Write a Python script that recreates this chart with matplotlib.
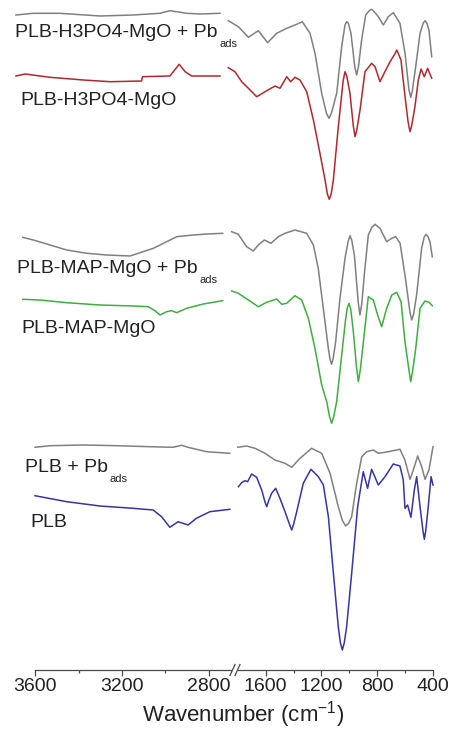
"""
FTIR spectra of PLB samples before / after Pb adsorption (broken wavenumber axis)
"""

import numpy as np
import matplotlib.pyplot as plt
from matplotlib.lines import Line2D

plt.rcParams['font.family'] = ['Liberation Sans', 'DejaVu Sans']
plt.rcParams['mathtext.fontset'] = 'custom'
plt.rcParams['mathtext.rm'] = 'Liberation Sans'
plt.rcParams['mathtext.it'] = 'Liberation Sans:italic'

# ===== DATA (transmittance, arbitrary units) =====
# "hi" = 3600-2700 cm-1 window, "lo" = 1800-400 cm-1 window

# PLB-H3PO4-MgO + Pb_ads
h3po4_pb_hi_wn = [3600, 3524, 3406, 3229, 3083, 2965, 2921, 2891, 2847, 2788, 2700]
h3po4_pb_hi = [0, 1.7, 1.7, -1, 0, 1.7, 4.3, 3.3, 1.7, 1, 1.7]
h3po4_pb_lo_wn = [1798, 1729, 1660, 1592, 1528, 1466, 1397, 1340, 1290, 1237, 1203,
                  1157, 1125, 1107, 1090, 1054, 1020, 997, 986, 975, 956, 930, 917, 905,
                  883, 855, 830, 814, 795, 768, 734, 700, 665, 620, 585, 558, 546, 535,
                  512, 482, 460, 448, 436, 421, 402]
h3po4_pb_lo = [-5.7, -11.7, -22.3, -15.7, -27.7, -18.3, -13.3, -10, -6.7, -18.3, -38.3,
               -78.3, -98, -103.3, -98, -78.3, -31.7, -10, -6.7, -8, -18.3, -52, -60, -52,
               -25, 0, 4.5, 5.7, 3, -1.7, -10, -1.7, 2.3, -8.3, -38.3, -75, -82.3, -76,
               -51.7, -18.3, -8, -5.7, -8, -15, -41.7]

# PLB-H3PO4-MgO
h3po4_hi_wn = [3600, 3560, 3450, 3303, 3184, 3046, 3042, 2921, 2880, 2854, 2825, 2700]
h3po4_hi = [0, 2, -1.3, -4, -5.7, -5, -0.7, 0, 11.7, 4.3, 0, 0]
h3po4_lo_wn = [1798, 1752, 1706, 1660, 1603, 1546, 1477, 1443, 1397, 1370, 1340, 1306,
               1260, 1214, 1169, 1134, 1118, 1105, 1092, 1077, 1043, 1010, 997, 985, 963,
               940, 928, 916, 894, 860, 814, 791, 757, 723, 688, 655, 642, 630, 613, 585,
               565, 551, 540, 517, 494, 475, 453, 430, 402]
h3po4_lo = [8.3, 4.3, -5.7, -12.3, -20.7, -15.7, -10, -12.3, -0.7, -5.7, -1.3, -4,
            -15.7, -44, -77.3, -104, -118, -123.3, -118, -104, -50.7, -5, 4.3, 0, -17.3,
            -50, -60.7, -54, -34, 4.3, 12.7, 9.3, -5.7, 4.3, 14.3, 22, 26, 22, 16, -20.7,
            -45, -55.7, -50, -30.7, -4, 7, -0.7, 7.7, -2.3]

# PLB-MAP-MgO + Pb_ads
map_pb_hi_wn = [3600, 3552, 3477, 3402, 3312, 3222, 3117, 3072, 3012, 2952, 2907, 2832, 2772, 2700]
map_pb_hi = [0, -2.7, -7.7, -12.7, -16, -17.7, -18.7, -15.4, -11, -4.4, 0.6, 2.3, 3.3, 4]
map_pb_lo_wn = [1800, 1754, 1696, 1650, 1615, 1573, 1527, 1476, 1429, 1360, 1279, 1232,
                1198, 1163, 1128, 1116, 1105, 1094, 1077, 1047, 1012, 990, 977, 965, 947,
                920, 908, 895, 878, 850, 825, 803, 769, 722, 687, 659, 629, 595, 560, 548,
                535, 514, 479, 462, 449, 436, 421, 405]
map_pb_lo = [5.6, 3, -9.4, -13.7, -7.7, -2.7, -6, 0.6, 4, 7.3, 4, -7.7, -31, -71, -111,
             -122, -127, -121, -104.4, -61, -21, -4, 1.6, -3, -17.7, -65, -77.7, -66,
             -37.7, 2.3, 10, 13, 9, -4.4, -1, 0.6, -6, -37.7, -75, -82.7, -77, -57.7, -11,
             0, 3, 1, -4.4, -19.4]

# PLB-MAP-MgO
map_hi_wn = [3600, 3522, 3402, 3252, 3102, 3035, 3005, 2982, 2952, 2930, 2907, 2862, 2787, 2700]
map_hi = [0, -0.7, -3.4, -5.7, -6.7, -7.4, -11.4, -15.7, -12.4, -11.4, -13.4, -9, -4.7, -1.4]
map_lo_wn = [1800, 1754, 1684, 1615, 1557, 1487, 1452, 1418, 1360, 1313, 1267, 1221, 1174,
             1139, 1120, 1105, 1090, 1070, 1035, 1007, 995, 984, 972, 954, 932, 919, 905,
             884, 850, 815, 785, 757, 722, 687, 653, 622, 595, 568, 555, 542, 520, 490,
             456, 428, 405]
map_lo = [8.3, 6, -0.7, -7.4, -3, 0.3, -5, -4, 3.6, -0.7, -19, -49, -85.7, -102.4, -117,
          -124, -117, -102.4, -55.7, -19, -8, -4, -10, -32.4, -68, -82.4, -70, -42.4, 2.6,
          -0.7, -15.7, -27.4, -9, 4.3, 7, -2.4, -42.4, -70, -82.4, -72, -49, -9, -1.7, -3,
          -6.4]

# PLB + Pb_ads
plb_pb_hi_wn = [3600, 3531, 3378, 3225, 3072, 2965, 2926, 2896, 2812, 2705]
plb_pb_hi = [0, 1.6, 2.3, 1.6, 0.6, 0, 2, 0, -4.4, -6]
plb_pb_lo_wn = [1800, 1736, 1676, 1604, 1533, 1461, 1413, 1353, 1270, 1198, 1138, 1079,
                1050, 1026, 1005, 983, 947, 911, 875, 828, 792, 720, 637, 601, 565, 541,
                510, 481, 457, 429, 400]
plb_pb_lo = [0, 1.3, -1, -6, -12.7, -16, -20, -11, -1, -6, -26, -59.4, -73, -78.7, -76,
             -69.4, -36, -9.4, -4.4, -2.7, -6, -4.4, -2, -12.7, -32, -22.7, -8.7, -19.4,
             -32, -22.7, 0.6]

# PLB
plb_hi_wn = [3600, 3562, 3454, 3302, 3149, 3057, 3018, 2980, 2942, 2896, 2858, 2796, 2704]
plb_hi = [0, -1.6, -6, -10.3, -12.6, -14.3, -21, -31.6, -26, -29.3, -22.6, -16, -13.6]
plb_lo_wn = [1795, 1772, 1748, 1729, 1700, 1664, 1628, 1605, 1592, 1578, 1557, 1528, 1497,
             1461, 1425, 1413, 1400, 1377, 1330, 1275, 1222, 1186, 1150, 1114, 1079, 1064,
             1050, 1036, 1019, 983, 940, 900, 869, 840, 792, 744, 685, 637, 613, 601, 582,
             558, 534, 517, 493, 472, 462, 452, 434, 414, 400]
plb_lo = [9, 13, 15, 14, 21.7, 18.4, 5.7, -6, -11, -5, 2.4, 7.4, -2.6, -16, -30, -34.3,
          -29, -16, 12.4, 26.4, 19, 10.7, -21, -77.6, -131, -147, -154.3, -147, -131,
          -77.6, -11, 24, 7.4, 26.4, 10.7, 19, 31.7, 29.7, 15.7, -12.6, -9.3, -21.6, 5.7,
          19, -11, -35, -43.6, -35, -11, 19, 10.7]

sample_names = ['PLB-H3PO4-MgO + Pb', 'PLB-H3PO4-MgO',
                'PLB-MAP-MgO + Pb', 'PLB-MAP-MgO',
                'PLB + Pb', 'PLB']
has_ads = [True, False, True, False, True, False]

hi_ticks = [3600, 3200, 2800]
lo_ticks = [1600, 1200, 800, 400]

# ===== LAYOUT (pixels of the 452x731 canvas) =====
W, H = 452, 731
AXIS_Y = 670                      # pixel row of the wavenumber axis
# stacking offsets above the axis
offsets = [655, 594, 432.7, 370.7, 222.7, 174.3]
colors = ['#808080', '#b0282e', '#808080', '#3fae3f', '#808080', '#3535a5']
# each panel: (hi x0, hi x1, lo x0, lo x1) in pixels
panel_px = [(16, 220, 228, 432), (22.7, 222.7, 231.7, 433), (35, 230.75, 237.7, 433)]
label_pos = [(15, 37.3), (20, 105), (17, 273.3), (21.7, 333.3), (25, 471.7), (30, 527.3)]

spectra = [
    (h3po4_pb_hi_wn, h3po4_pb_hi, h3po4_pb_lo_wn, h3po4_pb_lo),
    (h3po4_hi_wn, h3po4_hi, h3po4_lo_wn, h3po4_lo),
    (map_pb_hi_wn, map_pb_hi, map_pb_lo_wn, map_pb_lo),
    (map_hi_wn, map_hi, map_lo_wn, map_lo),
    (plb_pb_hi_wn, plb_pb_hi, plb_pb_lo_wn, plb_pb_lo),
    (plb_hi_wn, plb_hi, plb_lo_wn, plb_lo),
]


def px_rect(x0, x1):
    return [x0 / W, (H - AXIS_Y) / H, (x1 - x0) / W, AXIS_Y / H]


fig = plt.figure(figsize=(W / 100, H / 100), dpi=100)

axis_color = '#4a4a4a'
text_color = '#222222'
for p, (hx0, hx1, lx0, lx1) in enumerate(panel_px):
    ax_hi = fig.add_axes(px_rect(hx0, hx1))
    ax_lo = fig.add_axes(px_rect(lx0, lx1))
    for ax, lim in ((ax_hi, (3600, 2700)), (ax_lo, (1800, 400))):
        ax.set_xlim(*lim)
        ax.set_ylim(0, AXIS_Y)
        ax.patch.set_visible(False)
        for s in ax.spines.values():
            s.set_visible(False)
        ax.set_yticks([])
        if p < 2:
            ax.set_xticks([])

    for k in (2 * p, 2 * p + 1):
        wn_hi, t_hi, wn_lo, t_lo = spectra[k]
        ax_hi.plot(wn_hi, np.array(t_hi) + offsets[k], color=colors[k], lw=1.1,
                   clip_on=False, solid_joinstyle='round')
        ax_lo.plot(wn_lo, np.array(t_lo) + offsets[k], color=colors[k], lw=1.1,
                   clip_on=False, solid_joinstyle='round')

    if p == 2:
        for ax, ticks, minor in ((ax_hi, hi_ticks, [3400, 3000]),
                                 (ax_lo, lo_ticks, [1400, 1000, 600])):
            ax.spines['bottom'].set_visible(True)
            ax.spines['bottom'].set_color(axis_color)
            ax.spines['bottom'].set_linewidth(0.9)
            ax.set_xticks(ticks)
            ax.set_xticks(minor, minor=True)
            ax.tick_params(axis='x', which='major', direction='out', length=4,
                           width=0.9, color=axis_color, labelsize=14,
                           labelcolor=text_color, pad=2)
            ax.tick_params(axis='x', which='minor', direction='out', length=2.5,
                           width=0.9, color=axis_color)

# axis break marks
for bx in (230, 235):
    fig.add_artist(Line2D([bx / W, (bx + 5) / W], [1 - 675.5 / H, 1 - 664.5 / H],
                          color=axis_color, lw=0.9))

# sample labels, with Origin-style lowered "ads" subscript
for name, ads, (lx, ly) in zip(sample_names, has_ads, label_pos):
    t = fig.text(lx / W, 1 - ly / H, name, fontsize=14, color=text_color,
                 ha='left', va='baseline')
    if ads:
        fig.add_artist(plt.Annotation('ads', xy=(1, 0), xycoords=t, xytext=(2, -6),
                                      textcoords='offset pixels', fontsize=8,
                                      color=text_color, ha='left', va='baseline',
                                      annotation_clip=False))

fig.text(243 / W, 1 - 721.7 / H, r'Wavenumber (cm$^{\mathregular{-1}}$)', fontsize=16,
         color=text_color, ha='center', va='baseline')

fig.savefig('out.png', dpi=100)
